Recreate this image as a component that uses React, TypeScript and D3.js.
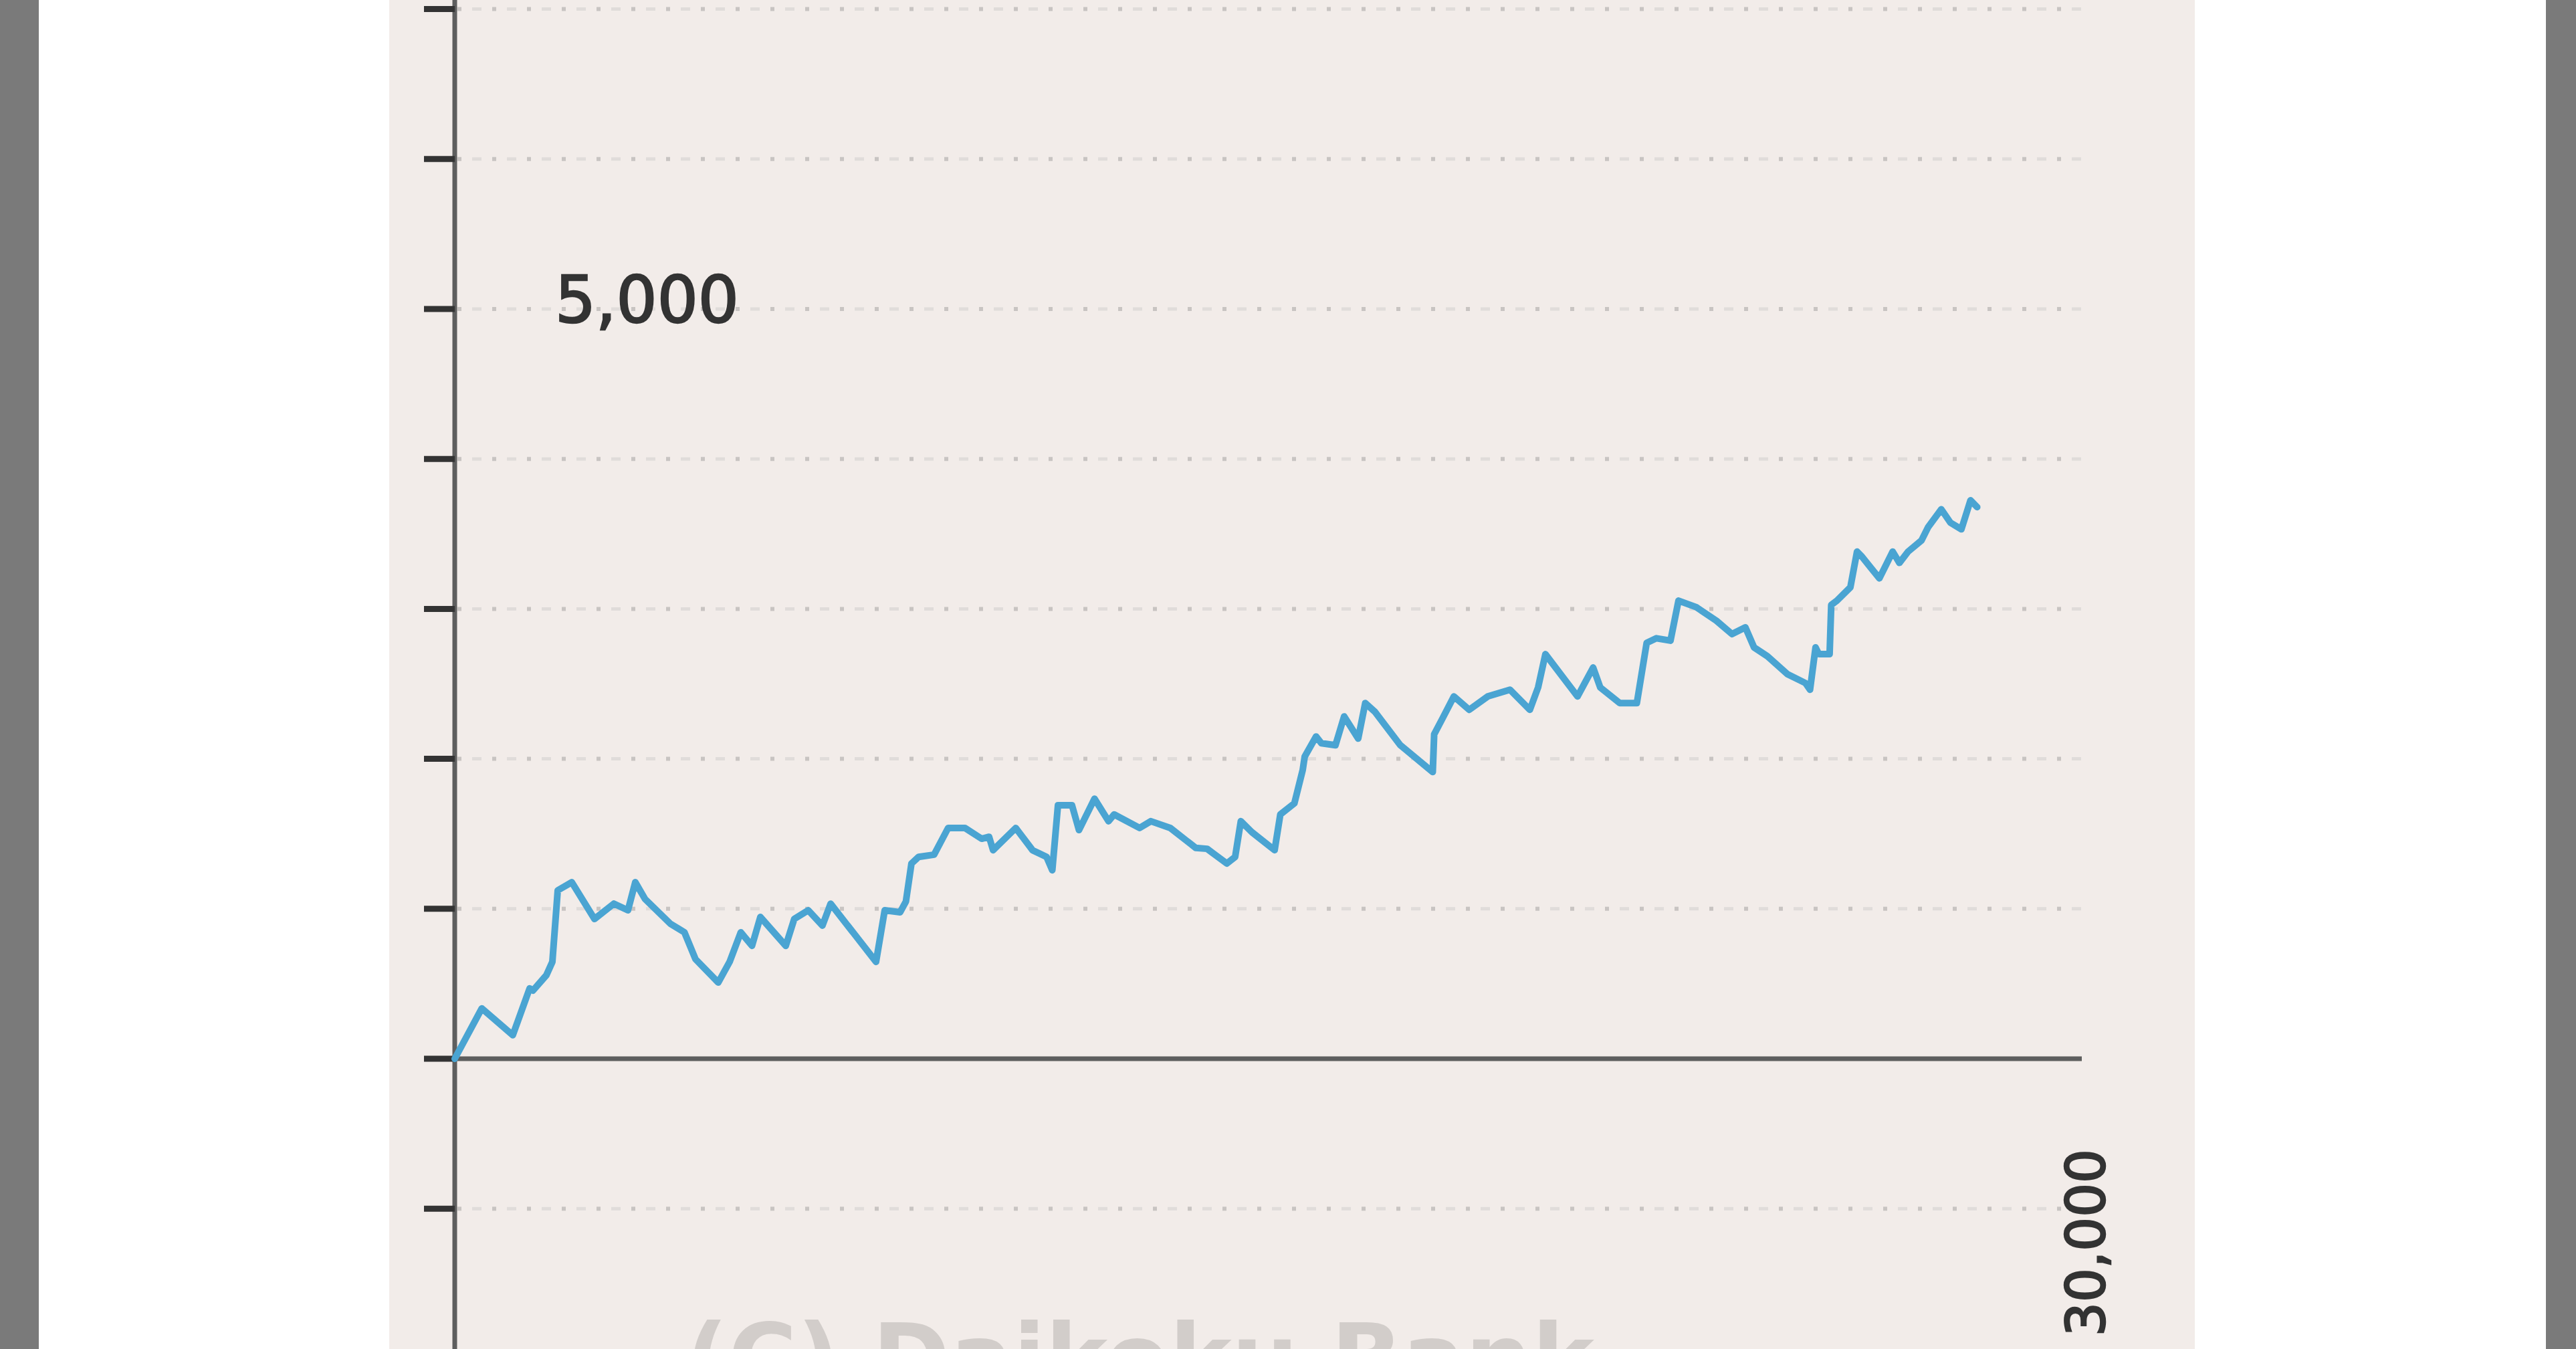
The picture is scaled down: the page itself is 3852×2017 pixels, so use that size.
import React from "react";
import * as d3 from "d3";

// ---- data ----
const hands: number[] = [
  0, 499, 1070, 1381, 1443, 1689, 1800, 1899, 2158, 2577, 2935, 3194, 3329, 3509,
  3977, 4235, 4439, 4858, 5068, 5274, 5481, 5635, 6103, 6260, 6519, 6779, 6930,
  7768, 7928, 8212, 8319, 8421, 8553, 8838, 9097, 9408, 9716, 9852, 9926, 10344,
  10653, 10912, 11018, 11122, 11381, 11510, 11796, 12055, 12158, 12626, 12835,
  13194, 13662, 13872, 14235, 14389, 14494, 14698, 15117, 15222, 15481, 15635,
  15672, 15881, 15980, 16239, 16399, 16658, 16788, 16966, 17435, 18033, 18059,
  18212, 18422, 18705, 19046, 19457, 19823, 19975, 20110, 20702, 20990, 21121,
  21479, 21796, 21977, 22157, 22416, 22564, 22893, 23263, 23550, 23797, 23957,
  24204, 24573, 24906, 24989, 25091, 25153, 25350, 25380, 25486, 25733, 25856,
  25937, 26267, 26513, 26637, 26797, 27043, 27166, 27409, 27578, 27780, 27948,
  28071,
];
const winnings: number[] = [
  0, 336, 157, 469, 455, 557, 646, 1123, 1177, 932, 1034, 990, 1177, 1065,
  900, 843, 664, 508, 646, 843, 753, 945, 753, 932, 990, 888, 1034,
  646, 990, 977, 1049, 1302, 1346, 1361, 1539, 1539, 1467, 1480, 1391, 1539,
  1391, 1346, 1257, 1690, 1690, 1525, 1734, 1584, 1629, 1539, 1584,
  1539, 1406, 1400, 1302, 1346, 1584, 1511, 1391, 1629, 1703, 1926,
  2015, 2149, 2104, 2091, 2283, 2135, 2372, 2314, 2091, 1912, 2164,
  2269, 2416, 2327, 2416, 2461, 2327, 2476, 2698, 2416, 2609, 2476,
  2372, 2372, 2773, 2804, 2788, 3055, 3011, 2921, 2832, 2877, 2743,
  2684, 2565, 2505, 2461, 2743, 2698, 2698, 3026, 3055, 3144, 3382,
  3352, 3204, 3382, 3307, 3382, 3456, 3545, 3664, 3575, 3531, 3724,
  3679,
];
const yTicks: number[] = [-1000, 0, 1000, 2000, 3000, 4000, 5000, 6000, 7000];
const yLabelValues: number[] = [5000];
const xLabelValues: number[] = [30000];
const watermark = "(C) Daikoku Bank";

const W = 3852;
const H = 2017;

export default function App() {
  const x = d3.scaleLinear().domain([0, 30000]).range([680, 3113]);
  const y = d3.scaleLinear().domain([0, 7000]).range([1583, 13.6]);
  const fmt = d3.format(",");

  const points: [number, number][] = hands.map((h, i) => [h, winnings[i]]);
  const line = d3
    .line<[number, number]>()
    .x((d) => x(d[0]))
    .y((d) => y(d[1]));

  const gridX0 = x(0) + 4;
  const gridX1 = x(30000) + 2;
  const font = "'DejaVu Sans', Verdana, sans-serif";

  return (
    <svg
      width={W}
      height={H}
      viewBox={`0 0 ${W} ${H}`}
      style={{ position: "absolute", left: 0, top: 0, display: "block" }}
    >
      <rect x={0} y={0} width={W} height={H} fill="#ffffff" />
      <rect x={0} y={0} width={58} height={H} fill="#7a7a7a" />
      <rect x={3807} y={0} width={W - 3807} height={H} fill="#7a7a7a" />
      <rect x={582} y={0} width={3282 - 582} height={H} fill="#f2ece9" />

      {/* dotted grid lines */}
      {yTicks
        .filter((t) => t !== 0)
        .map((t) => (
          <g key={"g" + t}>
            <line
              x1={gridX0}
              x2={gridX1}
              y1={y(t)}
              y2={y(t)}
              stroke="#e0dcda"
              strokeWidth={5}
              strokeDasharray="14 38"
              strokeDashoffset={30}
            />
            <line
              x1={gridX0}
              x2={gridX1}
              y1={y(t)}
              y2={y(t)}
              stroke="#c8c4c2"
              strokeWidth={6}
              strokeDasharray="6 46"
            />
          </g>
        ))}

      {/* y axis */}
      <line x1={x(0)} x2={x(0)} y1={0} y2={H} stroke="#5e5e5e" strokeWidth={7} />
      {yTicks.map((t) => (
        <line
          key={"t" + t}
          x1={x(0) - 46}
          x2={x(0)}
          y1={y(t)}
          y2={y(t)}
          stroke="#333"
          strokeWidth={9}
        />
      ))}
      {/* x axis */}
      <line x1={x(0)} x2={x(30000)} y1={y(0)} y2={y(0)} stroke="#5e5e5e" strokeWidth={7} />

      {/* series */}
      <path
        d={line(points) || ""}
        fill="none"
        stroke="#4aa4d2"
        strokeWidth={10}
        strokeLinejoin="round"
        strokeLinecap="round"
      />

      {/* labels */}
      {yLabelValues.map((v) => (
        <text
          key={"yl" + v}
          x={x(0) + 150}
          y={y(v) + 20}
          fontFamily={font}
          fontSize={96}
          fill="#333"
          stroke="#333"
          strokeWidth={2.5}
        >
          {fmt(v)}
        </text>
      ))}
      {xLabelValues.map((v) => (
        <text
          key={"xl" + v}
          transform={`translate(${x(v) + 34},${y(0) + 135}) rotate(-90)`}
          textAnchor="end"
          fontFamily={font}
          fontSize={80}
          fill="#333"
          stroke="#333"
          strokeWidth={2.5}
        >
          {fmt(v)}
        </text>
      ))}

      {/* watermark (cut off at bottom) */}
      <text
        x={1025}
        y={2080}
        fontFamily={font}
        fontSize={140}
        fontWeight="bold"
        fill="#d2cdca"
      >
        {watermark}
      </text>
    </svg>
  );
}
